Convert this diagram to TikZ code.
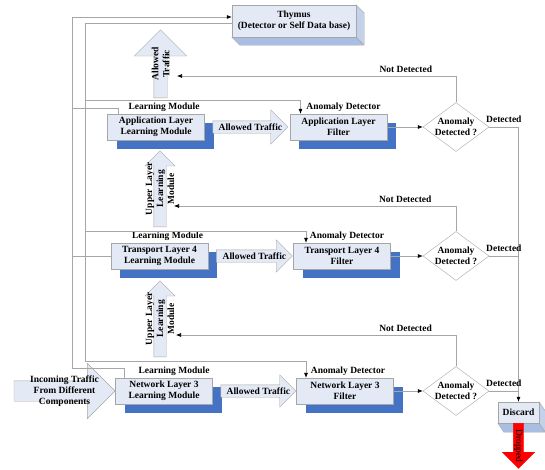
\documentclass[tikz,border=0pt]{standalone}
\usepackage{fontspec}
\setmainfont{Liberation Serif}
\usetikzlibrary{shapes.geometric, shapes.arrows, arrows.meta, positioning, calc, shadows, backgrounds}
\definecolor{boxfill}{HTML}{E4EAF5}
\definecolor{boxline}{HTML}{A6A6A6}
\definecolor{shadowblue}{HTML}{4472C4}
\definecolor{cubebottom}{HTML}{A9BEE2}
\definecolor{cubeside}{HTML}{C3D1EA}
\definecolor{linegray}{HTML}{A6A6A6}
\definecolor{dropred}{HTML}{FF0000}

\begin{document}
\begin{tikzpicture}[
    x=1pt, y=-1pt,
    font=\fontsize{9.5}{11}\selectfont\bfseries,
    block/.style={rectangle, draw=boxline, fill=boxfill, align=center, minimum width=97pt, minimum height=26pt, inner sep=1pt,
        general shadow={fill=shadowblue, shadow xshift=9pt, shadow yshift=-9pt}},
    cube/.style={rectangle, draw=boxline, fill=boxfill, align=center, inner sep=1pt},
    decision/.style={diamond, draw=boxline, fill=white, align=center, aspect=1.35, inner sep=-4pt, minimum width=66pt, minimum height=49pt},
    fatarrow/.style={single arrow, draw=boxline, fill=boxfill, anchor=tail},
    lbl/.style={inner sep=1pt, align=center},
    line/.style={draw=linegray, line width=0.6pt, -{Latex[length=5pt, width=4pt, color=black]}},
    wire/.style={draw=linegray, line width=0.6pt}
]
\useasboundingbox (0,0) rectangle (545,469);

% thymus
\node [cube, minimum width=124pt, minimum height=32pt] (thymus) at (294,21) {Thymus\\(Detector or Self Data base)};
\begin{scope}[on background layer]
\filldraw [draw=boxline, fill=cubeside] (thymus.north east) -- ++(8,8) -- ++(0,32) -- (thymus.south east) -- cycle;
\filldraw [draw=boxline, fill=cubebottom] (thymus.south west) -- ++(8,8) -- ++(124,0) -- (thymus.south east) -- cycle;
\end{scope}

% the three layers
\node [block] (applearn) at (156,127) {Application Layer\\Learning Module};
\node [block] (appfilt) at (338.5,127) {Application Layer\\Filter};
\node [decision] (appdec) at (456,127) {Anomaly\\Detected ?};
\node [block] (translearn) at (159.5,256) {Transport Layer 4\\Learning Module};
\node [block] (transfilt) at (342,256) {Transport Layer 4\\Filter};
\node [decision] (transdec) at (456,256) {Anomaly\\Detected ?};
\node [block] (netlearn) at (164,391) {Network Layer 3\\Learning Module};
\node [block] (netfilt) at (345,391) {Network Layer 3\\Filter};
\node [decision] (netdec) at (456,391) {Anomaly\\Detected ?};

\node [lbl, above=1pt of applearn, xshift=8pt] (applearnlbl) {Learning Module};
\node [lbl, above=1pt of appfilt, xshift=5pt] (appfiltlbl) {Anomaly Detector};
\node [lbl, above=1pt of translearn, xshift=8pt] (translearnlbl) {Learning Module};
\node [lbl, above=1pt of transfilt, xshift=5pt] (transfiltlbl) {Anomaly Detector};
\node [lbl, above=1pt of netlearn, xshift=10pt] (netlearnlbl) {Learning Module};
\node [lbl, above=1pt of netfilt, xshift=3pt] (netfiltlbl) {Anomaly Detector};

% allowed traffic
\node [fatarrow, minimum height=75pt, inner sep=6pt, single arrow head extend=11pt] (appflow) at ([xshift=8pt]applearn.east) {};
\node [lbl] (appflowtxt) at ($(appflow.tail)!0.5!(appflow.tip)$) {Allowed Traffic};
\node [fatarrow, minimum height=76pt, inner sep=6pt, single arrow head extend=10pt] (transflow) at ([xshift=8pt]translearn.east) {};
\node [lbl] (transflowtxt) at ($(transflow.tail)!0.5!(transflow.tip)$) {Allowed Traffic};
\node [fatarrow, minimum height=75pt, inner sep=6pt, single arrow head extend=10pt] (netflow) at ([xshift=8pt]netlearn.east) {};
\node [lbl] (netflowtxt) at ($(netflow.tail)!0.5!(netflow.tip)$) {Allowed Traffic};

\node [fatarrow, shape border rotate=90, minimum height=68pt, inner sep=6.5pt, single arrow head extend=19.5pt] (upflow1) at (160.5,98) {};
\node [lbl, rotate=90] (upflow1txt) at ($(upflow1.tail)!0.5!(upflow1.tip)$) {Allowed\\Traffic};
\node [fatarrow, shape border rotate=90, minimum height=76pt, inner sep=6pt, single arrow head extend=9pt] (upflow2) at (160,227) {};
\node [lbl, rotate=90] (upflow2txt) at ($(upflow2.tail)!0.5!(upflow2.tip)$) {Upper Layer\\Learning\\Module};
\node [fatarrow, shape border rotate=90, minimum height=76pt, inner sep=6pt, single arrow head extend=9pt] (upflow3) at (160,357) {};
\node [lbl, rotate=90] (upflow3txt) at ($(upflow3.tail)!0.5!(upflow3.tip)$) {Upper Layer\\Learning\\Module};

\node [fatarrow, anchor=tip, minimum height=101pt, inner sep=10pt, single arrow head extend=17.5pt] (incoming) at (netlearn.west) {};
\node [lbl] (incomingtxt) at ($(incoming.tail)!0.5!(incoming.tip)$) {Incoming Traffic\\From Different\\Components};

% discard
\node [cube, minimum width=41pt, minimum height=21pt] (discard) at (518.5,412.5) {Discard};
\begin{scope}[on background layer]
\filldraw [draw=boxline, fill=cubeside] (discard.north east) -- ++(6,9) -- ++(0,21) -- (discard.south east) -- cycle;
\filldraw [draw=boxline, fill=cubebottom] (discard.south west) -- ++(6,9) -- ++(41,0) -- (discard.south east) -- cycle;
\end{scope}
\node [fatarrow, shape border rotate=270, fill=dropred, draw=dropred, minimum height=45pt, inner sep=5pt, single arrow head extend=11pt] (dropped) at (discard.south) {};
\node [lbl, rotate=-90, font=\fontsize{9.5}{11}\selectfont] (droppedtxt) at ($(dropped.tail)!0.5!(dropped.tip)$) {Dropped};

% learning modules to thymus
\coordinate (obus) at (72,368);
\coordinate (oapp) at (72,108);
\path [line] ([xshift=-40pt]netlearn.north) |- (obus) |- ([yshift=4pt]thymus.west);
\path [wire] (oapp) -| ([xshift=-38pt]applearn.north);
\path [wire] (obus |- translearn.west) -- (translearn.west);

% thymus to anomaly detectors
\coordinate (ibus) at (85,361);
\coordinate (iapp) at (85,100);
\coordinate (itrans) at (85,231);
\path [line] ([yshift=-2pt]thymus.west) -| (ibus) -| ([xshift=-39pt]netfilt.north);
\path [line] (iapp) -| ([xshift=-38pt]appfilt.north);
\path [line] (itrans) -| ([xshift=-36pt]transfilt.north);

% filters to decisions
\path [line] (appfilt.east) -- (appdec.west);
\path [line] (transfilt.east) -- (transdec.west);
\path [line] (netfilt.east) -- (netdec.west);

% not detected
\coordinate (appback) at (177,76);
\coordinate (transback) at (174,206);
\coordinate (netback) at (176,335);
\path [line] (appdec.north) |- node[lbl, above=2pt, pos=0.59] (appnd) {Not Detected} (appback);
\path [line] (transdec.north) |- node[lbl, above=2pt, pos=0.59] (transnd) {Not Detected} (transback);
\path [line] (netdec.north) |- node[lbl, above=2pt, pos=0.59] (netnd) {Not Detected} (netback);

% detected
\path [line] (appdec.east) -| node[lbl, above=3pt, pos=0.25] (appdet) {Detected} (discard.north);
\path [wire] (transdec.east) -- node[lbl, above=3pt] (transdet) {Detected} (transdec.east -| discard.north);
\path [wire] (netdec.east) -- node[lbl, above=3pt] (netdet) {Detected} (netdec.east -| discard.north);
\end{tikzpicture}
\end{document}
